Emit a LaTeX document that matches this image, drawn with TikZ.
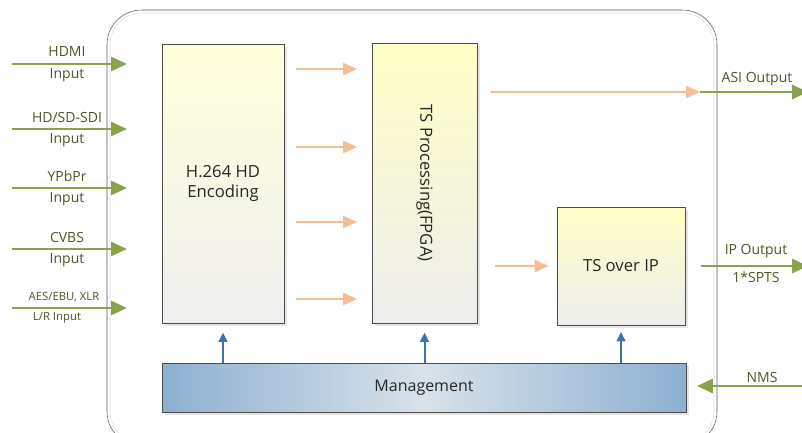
\documentclass[tikz,border=0pt]{standalone}
\usepackage{fontspec}
\setmainfont{Open Sans}
\usetikzlibrary{arrows.meta}
\usetikzlibrary{shadows}

\definecolor{inGreen}{HTML}{8AA24B}
\definecolor{flowOrange}{HTML}{F5BD95}
\definecolor{ctrlBlue}{HTML}{3A74AC}
\definecolor{lblText}{HTML}{4C5628}
\definecolor{mgmtEdge}{HTML}{8DB0D1}
\definecolor{mgmtMid}{HTML}{D8E2EA}

\begin{document}
\begin{tikzpicture}[x=0.75pt,y=-0.75pt,
	block/.style={draw=black!70,thin,align=center,inner sep=0pt,text=black!85,
		drop shadow={shadow xshift=2pt,shadow yshift=-2pt,opacity=0.25,fill=black!40},
		font=\fontsize{12.5}{15}\selectfont},
	lbl/.style={text=lblText,inner sep=0pt,font=\fontsize{10.5}{12}\selectfont},
	inarrow/.style={draw=inGreen,line width=2.2pt,-{Triangle[length=12pt,width=10.5pt]}},
	flowarrow/.style={draw=flowOrange,line width=1.8pt,-{Triangle[length=10.5pt,width=9pt]}},
	ctrlarrow/.style={draw=ctrlBlue,line width=1.5pt,-{Triangle[length=7pt,width=6.5pt]}}]

\useasboundingbox (0,0) rectangle (802,432);
\clip (0,0) rectangle (802,432);

% housing
\draw[black!65,rounded corners=26pt] (107,10) rectangle (717,446);
\draw[black!12,rounded corners=24pt] (110,13) rectangle (714,443);

% blocks
\node[block,minimum width=91.5pt,minimum height=209.25pt,top color=yellow!14!white,bottom color=black!6] (enc) at (223,183.5) {H.264 HD\\Encoding};
\node[block,minimum width=78.75pt,minimum height=210pt,top color=yellow!22!white,bottom color=black!7] (tsp) at (424.5,183) {};
\node[rotate=-90,text=black!85,font=\fontsize{12.5}{15}\selectfont] (tsplbl) at (tsp.center) {TS Processing(FPGA)};
\node[block,minimum width=96pt,minimum height=88.5pt,top color=yellow!22!white,bottom color=black!7] (tsip) at (621,266) {TS over IP};
\node[block,minimum width=393pt,minimum height=36.75pt,left color=mgmtEdge,right color=mgmtEdge,middle color=mgmtMid,font=\fontsize{12}{14}\selectfont] (mgmt) at (424,387.5) {Management};

% inputs
\newcommand\drawInput[5]{
	\coordinate (#1s) at (12,#2);
	\coordinate (#1e) at (127,#2);
	\draw[inarrow] (#1s) -- (#1e);
	\node[lbl] (#1top) at (67,#2-12) {#3};
	\node[lbl] (#1bot) at (67,#2+11) {#4};
}
\drawInput{hdmi}{64}{HDMI}{Input}{}
\drawInput{sdi}{129}{HD/SD-SDI}{Input}{}
\drawInput{ypbpr}{188}{YPbPr}{Input}{}
\drawInput{cvbs}{249}{CVBS}{Input}{}
\coordinate (aess) at (12,308);
\coordinate (aese) at (127,308);
\draw[inarrow] (aess) -- (aese);
\node[lbl,font=\fontsize{8.5}{10}\selectfont] (aestop) at (64,297) {AES/EBU, XLR};
\node[lbl,font=\fontsize{8.5}{10}\selectfont] (aesbot) at (57,318) {L/R Input};

% encoder -> ts processing
\foreach \y in {69,147,222,299}
{
	\coordinate (fl\y) at (0,\y);
	\draw[flowarrow,shorten <=9pt,shorten >=11pt] (enc.east |- fl\y) -- (tsp.west |- fl\y);
}

% outputs
\coordinate (asi) at (700,92);
\coordinate (asiout) at (808,92);
\draw[flowarrow,shorten <=10pt] (tsp.east |- asi) -- (asi);
\draw[inarrow] (asi) -- (asiout);
\node[lbl] (asilbl) at (757,79) {ASI Output};

\coordinate (ipout) at (808,266);
\draw[flowarrow,shorten <=13.5pt,shorten >=6pt] (tsp.east |- tsip) -- (tsip.west);
\draw[inarrow,shorten <=12pt] (tsip.east) -- (ipout);
\node[lbl] (iplbl) at (756,251) {IP Output};
\node[lbl] (spts) at (756,277) {1*SPTS};

% control
\coordinate (nms) at (808,386);
\draw[inarrow,shorten >=8pt] (nms) -- (mgmt.east |- nms);
\node[lbl] (nmslbl) at (762,377) {NMS};

\draw[ctrlarrow,shorten >=7pt] (mgmt.north -| enc.south) -- (enc.south);
\draw[ctrlarrow,shorten >=7pt] (mgmt.north -| tsp.south) -- (tsp.south);
\draw[ctrlarrow,shorten >=5pt] (mgmt.north -| tsip.south) -- (tsip.south);

\end{tikzpicture}
\end{document}
